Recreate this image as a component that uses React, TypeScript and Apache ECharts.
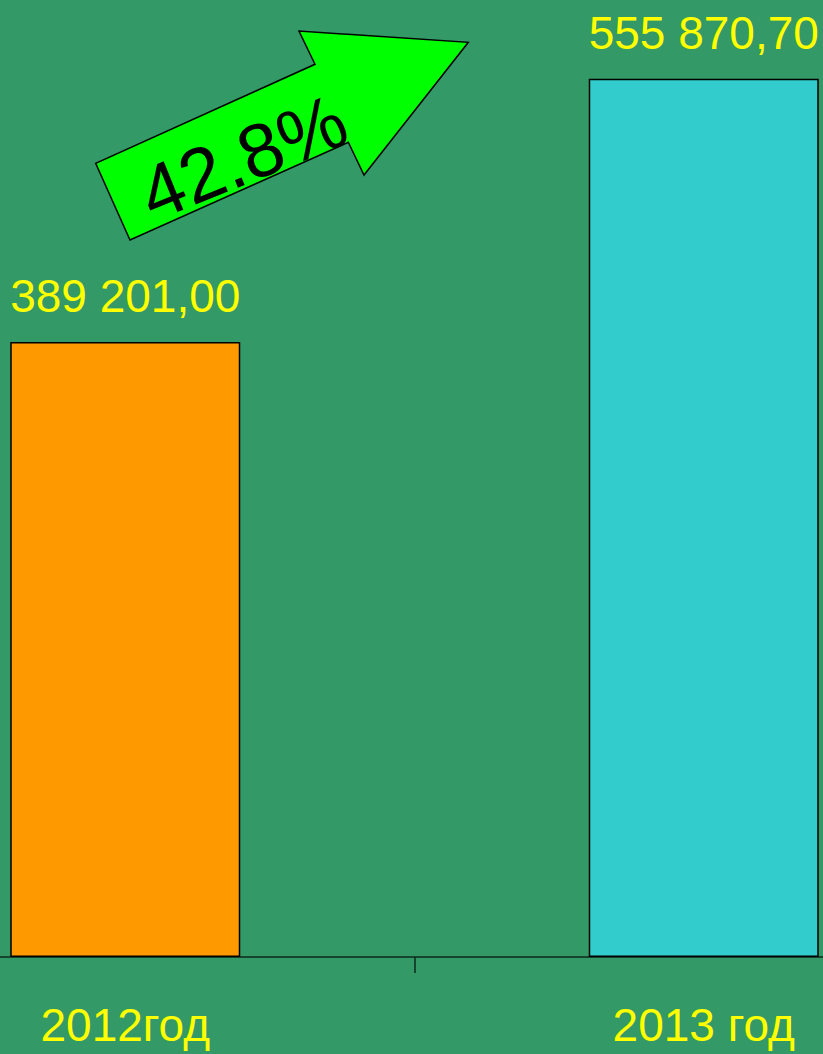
import React, { useEffect, useRef } from "react";
import * as echarts from "echarts";

const categories: string[] = ["2012год", "2013 год"];
const values: number[] = [389201.0, 555870.7];
const barColors: string[] = ["#FF9900", "#33CCCC"];
const yMax = 600000;

const fmt = (v: number): string => {
  const [intPart, dec] = v.toFixed(2).split(".");
  const grouped = intPart.replace(/\B(?=(\d{3})+(?!\d))/g, " ");
  return grouped + "," + dec;
};

const growthLabel = ((values[1] / values[0] - 1) * 100).toFixed(1) + "%";

const FONT = '"Liberation Sans", Arial, sans-serif';
// The plot area is wider than the window; the chart canvas is shifted left.
const OFFSET = 164;
const WIDE = 1157;

export default function App() {
  const ref = useRef<HTMLDivElement>(null);
  useEffect(() => {
    if (!ref.current) return;
    const chart = echarts.init(ref.current, undefined, { renderer: "svg" });
    const pts: number[][] = [
      [130, 240],
      [95.7, 163.3],
      [315, 64.3],
      [299, 31],
      [468.3, 42.3],
      [364, 175],
      [348.3, 142.3],
    ].map(([x, y]) => [x + OFFSET, y]);
    chart.setOption({
      animation: false,
      backgroundColor: "#339966",
      grid: { left: 0, right: 0, top: 9, bottom: 97, containLabel: false },
      xAxis: {
        type: "category",
        data: categories,
        axisLine: { show: true, lineStyle: { color: "#0d2a1b", width: 1.5 } },
        axisTick: { show: true, length: 16, lineStyle: { color: "#0d2a1b", width: 1.5 } },
        axisLabel: {
          color: "#FFFF00",
          fontSize: 46,
          fontFamily: FONT,
          margin: 45,
          lineHeight: 46,
        },
      },
      yAxis: {
        type: "value",
        min: 0,
        max: yMax,
        show: false,
        splitLine: { show: false },
      },
      series: [
        {
          type: "bar",
          barWidth: 230,
          data: values.map((v, i) => ({
            value: v,
            itemStyle: { color: barColors[i], borderColor: "#000", borderWidth: 1.5 },
          })),
          label: {
            show: true,
            position: "top",
            distance: 23,
            color: "#FFFF00",
            fontSize: 46,
            lineHeight: 46,
            fontFamily: FONT,
            formatter: (p: any) => fmt(p.value),
          },
        },
      ],
      graphic: [
        {
          type: "polygon",
          z: 100,
          shape: { points: pts },
          style: { fill: "#00FF00", stroke: "#000", lineWidth: 1.5 },
        },
        {
          type: "text",
          z: 101,
          x: 243 + OFFSET,
          y: 157,
          rotation: (22 * Math.PI) / 180,
          style: {
            text: growthLabel,
            font: `76px ${FONT}`,
            fill: "#000",
            align: "center",
            verticalAlign: "middle",
          },
        },
      ],
    });
    return () => chart.dispose();
  }, []);
  return (
    <div
      ref={ref}
      style={{ position: "fixed", left: -OFFSET, top: 0, width: WIDE, height: 1054 }}
    />
  );
}
